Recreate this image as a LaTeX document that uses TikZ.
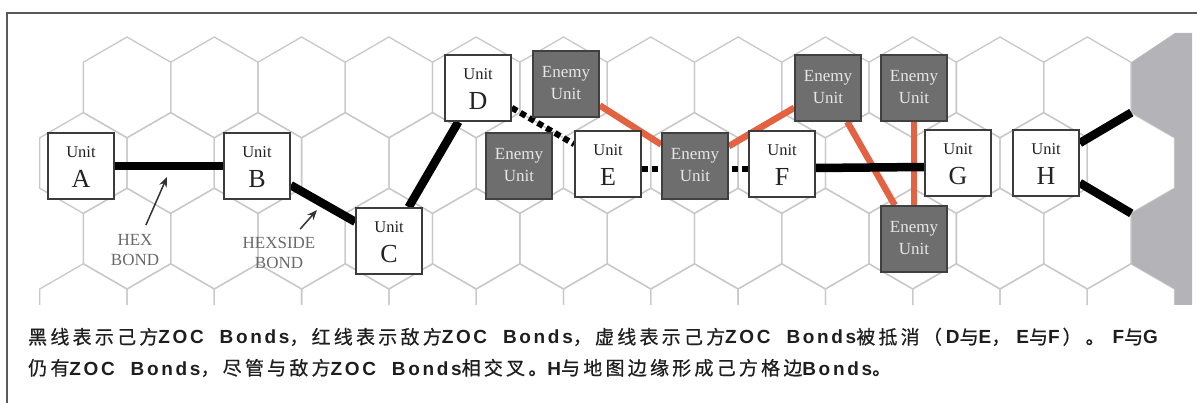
\documentclass[tikz,border=0pt]{standalone}
\usepackage{fontspec}
\setmainfont{Liberation Serif}
\newfontfamily\cjkf[LetterSpace=17,FakeBold=0.6]{Noto Sans CJK SC}
\newfontfamily\latf[LetterSpace=14]{Liberation Sans}
\usetikzlibrary{arrows.meta}
\definecolor{hexc}{RGB}{200,200,200}
\definecolor{ubord}{RGB}{60,60,60}
\definecolor{utxt}{RGB}{35,35,35}
\definecolor{efill}{RGB}{110,110,110}
\definecolor{ebord}{RGB}{64,64,64}
\definecolor{etxt}{RGB}{230,230,230}
\definecolor{redc}{RGB}{226,98,66}
\definecolor{edgegray}{RGB}{180,180,184}
\definecolor{lblc}{RGB}{105,105,105}
\definecolor{framec}{RGB}{90,90,90}
\definecolor{txtc}{RGB}{30,30,30}
\newcommand\ltn[1]{{\latf\bfseries #1}}
\newcommand\utext[1]{\makebox[0pt]{\raisebox{8pt}[0pt][0pt]{\makebox[0pt]{\fontsize{16.5}{16.5}\selectfont Unit}}}\makebox[0pt]{\raisebox{-22pt}[0pt][0pt]{\makebox[0pt]{\fontsize{26}{26}\selectfont #1}}}}
\newcommand\etext{\makebox[0pt]{\raisebox{6pt}[0pt][0pt]{\makebox[0pt]{\fontsize{17}{17}\selectfont Enemy}}}\makebox[0pt]{\raisebox{-16pt}[0pt][0pt]{\makebox[0pt]{\fontsize{17}{17}\selectfont Unit}}}}
\newcommand\hexat[2]{\draw[hexline] (#1,#2-50.4) -- (#1+43.65,#2-25.2) -- (#1+43.65,#2+25.2) -- (#1,#2+50.4) -- (#1-43.65,#2+25.2) -- (#1-43.65,#2-25.2) -- cycle;}
\pgfdeclarelayer{gridlayer}
\pgfdeclarelayer{bondlayer}
\pgfsetlayers{gridlayer,bondlayer,main}
\tikzset{
  hexline/.style={draw=hexc, line width=1.3pt},
  unit/.style={draw=ubord, fill=white, line width=1.6pt, minimum size=66pt, inner sep=0pt, text=utxt},
  enemy/.style={draw=ebord, fill=efill, line width=1.6pt, minimum size=66pt, inner sep=0pt, text=etxt},
  bond/.style={line width=8.5pt, black},
  ebond/.style={line width=6.5pt, redc},
  cutbond/.style={line width=6pt, black, dash pattern=on 6pt off 4pt},
  lbl/.style={text=lblc, align=center, font=\fontsize{17}{20.5}\selectfont},
  ptr/.style={line width=1.5pt, draw=black!80, -{Stealth[length=10pt,width=8pt]}},
  txt/.style={text=txtc, inner sep=0pt, font=\fontsize{19}{19}\selectfont\cjkf},
}
\begin{document}
\begin{tikzpicture}[x=1pt,y=-1pt]
\useasboundingbox (0,0) rectangle (1197,403);
\begin{pgfonlayer}{gridlayer}
  \begin{scope}
    \clip (0,30) rectangle (1197,305);
    \foreach \k in {0,...,11} {
      \pgfmathsetmacro\cx{127+87.3*\k}
      \hexat{\cx}{87.4}
      \hexat{\cx}{238.6}
    }
    \foreach \k in {0,...,12} {
      \pgfmathsetmacro\cx{83.35+87.3*\k}
      \hexat{\cx}{163}
      \hexat{\cx}{314.2}
    }
  \end{scope}
  \fill[edgegray] (1192,33) -- (1175,33) -- (1131.3,62.2) -- (1131.3,112.6) -- (1175,137.8) -- (1175,188.2) -- (1131.3,213.4) -- (1131.3,263.8) -- (1175,289) -- (1175,305) -- (1192,305) -- cycle;
\end{pgfonlayer}
\draw[framec, line width=2pt] (1197,13) -- (7,13) -- (7,403);
% friendly units
\node[unit] (A) at (81,166) {\utext{A}};
\node[unit] (B) at (257,166) {\utext{B}};
\node[unit] (C) at (389,241) {\utext{C}};
\node[unit] (D) at (478,88) {\utext{D}};
\node[unit] (E) at (608,164) {\utext{E}};
\node[unit] (F) at (782,164) {\utext{F}};
\node[unit] (G) at (958,163) {\utext{G}};
\node[unit] (H) at (1046,163) {\utext{H}};
% enemy units
\node[enemy] (e1) at (566,84) {\etext};
\node[enemy] (e2) at (519,166) {\etext};
\node[enemy] (e3) at (695,166) {\etext};
\node[enemy] (e4) at (828,88) {\etext};
\node[enemy] (e5) at (914,88) {\etext};
\node[enemy] (e6) at (914,239) {\etext};
\coordinate (m1) at (1131.3,112.6);
\coordinate (m2) at (1131.3,213.4);
% labels
\node[lbl] (hexlbl) at (135,250) {HEX\\BOND};
\node[lbl] (hexsidelbl) at (279,253) {HEXSIDE\\BOND};
\coordinate (hextip) at (167,177);
\coordinate (hstip) at (317,210);
\draw[ptr, shorten <=6pt] (hexlbl) -- (hextip);
\draw[ptr, shorten <=6pt] (hexsidelbl) -- (hstip);
\begin{pgfonlayer}{bondlayer}
  \draw[ebond] (e1) -- (e3);
  \draw[ebond] (e3) -- (e4);
  \draw[ebond] (e4) -- (e6);
  \draw[ebond] (e5) -- (e6);
  \draw[bond] (A) -- (B);
  \draw[bond] (B) -- (C);
  \draw[bond] (C) -- (D);
  \draw[bond] ([yshift=-4pt]F.east) -- ([yshift=-4pt]G.west);
  \draw[bond] (H) -- (m1);
  \draw[bond] (H) -- (m2);
  \draw[cutbond] (D) -- (E);
  \draw[cutbond] ([yshift=-5pt]E.east) -- ([yshift=-5pt]F.west);
\end{pgfonlayer}
% caption
\node[txt, anchor=base west] (l1) at (28,344) {黑线表示己方\ltn{ZOC\ \ Bonds}，红线表示敌方\ltn{ZOC\ \ Bonds}，虚线表示己方\ltn{ZOC\ \ Bonds}被抵消（\hspace{4pt}\ltn{D}与\ltn{E}，\hspace{6pt}\ltn{E}与\ltn{F}\hspace{3pt}）\hspace{4pt}。\hspace{8pt}\ltn{F}与\ltn{G}};
\node[txt, anchor=base west] (l2) at (28,375) {仍有\ltn{ZOC\ \ Bonds}，尽管与敌方\ltn{ZOC\ \ Bonds}相交叉。\ltn{H}与地图边缘形成己方格边\ltn{Bonds}。};
\end{tikzpicture}
\end{document}
